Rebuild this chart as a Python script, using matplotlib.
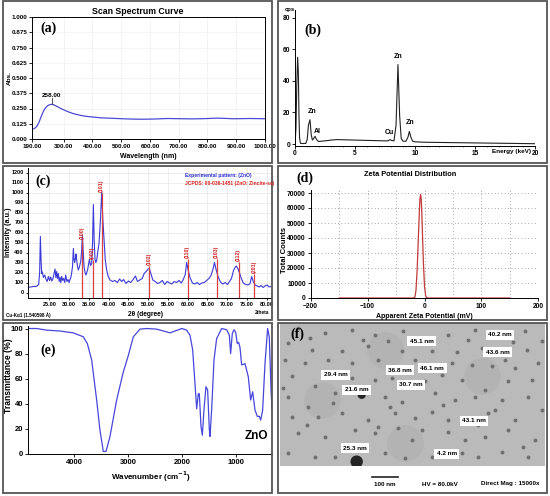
import numpy as np
import matplotlib
matplotlib.use("Agg")
import matplotlib.pyplot as plt
from matplotlib.patches import Rectangle

W, H = 550, 496

# (a) UV-Vis scan spectrum
uv_wl = [190, 196, 202, 208, 214, 220, 226, 232, 238, 244, 250, 256, 262, 268, 276,
         288, 300, 318, 335, 360, 381, 405, 427, 455, 485, 515, 543, 572, 601, 630,
         659, 688, 716, 745, 774, 803, 832, 861, 890, 920, 948, 975, 1000]
uv_abs = [0.082, 0.084, 0.092, 0.108, 0.135, 0.172, 0.208, 0.238, 0.258, 0.272, 0.280, 0.284,
          0.283, 0.278, 0.268, 0.253, 0.239, 0.221, 0.207, 0.193, 0.185, 0.179, 0.174, 0.171,
          0.168, 0.165, 0.163, 0.162, 0.163, 0.165, 0.168, 0.167, 0.166, 0.165, 0.166, 0.168,
          0.171, 0.169, 0.166, 0.167, 0.168, 0.167, 0.166]
uv_peak = 258.0

# (b) EDS spectrum
eds_e = [0, 0.08, 0.15, 0.22, 0.28, 0.33, 0.38, 0.45, 0.6, 0.9, 1.02, 1.12, 1.25, 1.35, 1.45,
         1.55, 1.67, 1.78, 1.95, 2.2, 2.6, 3.0, 3.5, 4.0, 4.5, 5.0, 5.5, 6.0, 6.5, 7.0, 7.5,
         7.75, 7.9, 8.05, 8.25, 8.42, 8.58, 8.72, 8.85, 9.0, 9.25, 9.42, 9.53, 9.65, 9.8,
         10.0, 10.5, 11, 12, 13, 14, 15, 16, 17, 18, 19, 20]
eds_cps = [0, 10, 38, 55, 45, 18, 4, 0.5, 0.3, 0.4, 3, 12, 15.4, 6, 2.5,
           3.5, 4.9, 3.0, 1.6, 1.8, 2.1, 2.5, 2.8, 2.7, 2.6, 2.5, 2.4, 2.3, 2.2, 2.1, 2.0,
           2.0, 2.8, 2.3, 2.0, 12, 50.4, 18, 3.5, 1.8, 1.8, 4.5, 8.0, 4.5, 1.8,
           1.4, 1.2, 1.1, 1.0, 0.9, 0.8, 0.7, 0.6, 0.5, 0.4, 0.3, 0.2]
eds_labels = ["Zn", "Al", "Cu", "Zn", "Zn"]
eds_label_e = [1.39, 1.86, 7.86, 8.56, 9.58]
eds_label_c = [18.6, 6.0, 5.3, 53.5, 11.2]

# (c) XRD pattern
xrd_2t = [19.5, 20.3, 21.0, 21.8, 22.3, 22.55, 22.73, 22.9, 23.07, 23.24, 23.49, 23.83, 24.17,
          24.45, 24.75, 25.05, 25.35, 25.6, 25.85, 26.15, 26.44, 26.65, 26.86, 27.05, 27.28,
          27.5, 27.71, 27.9, 28.13, 28.4, 28.64, 28.9, 29.14, 29.45, 29.73, 30.0, 30.24, 30.45,
          30.66, 30.87, 31.08, 31.25, 31.42, 31.6, 31.75, 32.05, 32.34, 32.64, 32.94, 33.15,
          33.36, 33.57, 33.78, 34.03, 34.28, 34.7, 35.13, 35.45, 35.72, 35.95, 36.14, 36.35,
          36.56, 36.77, 36.98, 37.3, 37.57, 37.9, 38.25, 38.55, 38.84, 39.15, 39.51, 39.9,
          40.36, 41.0, 41.6, 42.2, 42.8, 43.3, 43.8, 44.4, 45.0, 45.6, 46.2, 46.8, 47.3, 47.9,
          48.5, 49.0, 49.5, 50.0, 50.3, 50.7, 51.2, 51.8, 52.4, 53.0, 53.6, 54.2, 54.8, 55.4,
          56.0, 56.6, 57.2, 57.8, 58.4, 58.9, 59.4, 59.75, 60.1, 60.6, 61.2, 61.8, 62.4, 63.0,
          63.6, 64.2, 64.8, 65.4, 65.9, 66.4, 66.8, 67.2, 67.7, 68.3, 68.9, 69.5, 70.1, 70.6,
          71.1, 71.6, 72.0, 72.3, 72.7, 73.1, 73.6, 74.1, 74.7, 75.3, 75.8, 76.2, 76.6, 77.1,
          77.6, 78.1, 78.6, 79.1, 79.6, 80.1, 80.6, 81.1]
xrd_int = [50, 55, 60, 62, 80, 200, 560, 330, 190, 205, 150, 175, 130,
           110, 160, 120, 155, 115, 130, 180, 235, 150, 210, 140, 190,
           110, 150, 100, 160, 120, 140, 100, 175, 110, 130, 100, 130, 150,
           200, 260, 440, 330, 300, 340, 385, 280, 225, 260, 310, 400,
           570, 420, 260, 200, 175, 230, 330, 270, 290, 520, 880, 520,
           330, 300, 320, 420, 490, 700, 1000, 720, 525, 330, 225, 160,
           125, 110, 120, 100, 135, 110, 130, 90, 115, 100, 130, 165, 110, 125,
           140, 190, 210, 235, 240, 190, 125, 110, 90, 100, 120, 80, 110, 95,
           85, 110, 100, 120, 95, 130, 180, 300, 230, 150, 95, 85, 100, 80,
           95, 100, 120, 140, 170, 230, 300, 230, 160, 105, 85, 100, 80, 110,
           140, 220, 250, 265, 240, 200, 140, 95, 80, 75, 90, 160, 110, 75,
           65, 55, 70, 50, 65, 75, 55, 60]
jc_2t = [33.36, 35.97, 38.25, 50.31, 60.0, 67.34, 72.9, 76.78]
jc_top = [530, 325, 1000, 265, 340, 340, 310, 190]
jc_hkl = ["(100)", "(002)", "(101)", "(102)", "(110)", "(103)", "(112)", "(201)"]

# (d) Zeta potential distribution
zeta_mv = [-150, -40, -20, -17, -15, -13, -11, -9, -8, -7, -6, -5, -4, -2, 0, 2, 4, 8, 40, 150]
zeta_counts = [0, 0, 0, 500, 5000, 18000, 38000, 58000, 66000, 69000, 67000, 60000, 48000,
               24000, 8000, 1500, 200, 0, 0, 0]

# (e) FTIR spectrum
ir_wn = [4846, 4691, 4506, 4259, 4012, 3827, 3753, 3673, 3580, 3519, 3457, 3407, 3333,
         3210, 3086, 3000, 2901, 2778, 2654, 2469, 2284, 2222, 2130, 2000, 1914, 1852,
         1802, 1759, 1728, 1698, 1679, 1648, 1623, 1593, 1556, 1525, 1494, 1481, 1451,
         1407, 1358, 1265, 1173, 1123, 1099, 1068, 1037, 1006, 975, 951, 926, 895, 833,
         772, 728, 691, 648, 605, 568, 543, 506, 463, 414, 383, 350, 333]
ir_t = [100, 100, 98.7, 98, 96.5, 93.4, 88, 75, 43, 19, 2, 2, 14,
        43, 65.5, 77.5, 93.4, 99.5, 100, 99.5, 97.3, 96.5, 98, 100, 98.7, 94.7,
        83, 56, 36, 48, 48, 22, 15, 35, 53.6, 51, 20, 14, 35,
        75, 92, 100, 99, 94.7, 80, 96, 99, 97, 88, 89, 85, 71, 72,
        61.5, 43, 49.6, 35, 30, 30, 27, 35, 72, 100, 93, 50, 36]

# (f) TEM particles (micrograph pixel positions)
tem_x = [70, 150, 230, 300, 385, 520, 600, 750, 40, 110, 200, 280, 340, 380, 470, 545, 620,
         690, 755, 800, 30, 90, 160, 230, 310, 420, 530, 590, 650, 720, 790, 50, 120, 230,
         300, 350, 450, 500, 560, 630, 700, 770, 40, 100, 180, 330, 380, 480, 540, 600, 680,
         760, 50, 130, 200, 280, 360, 420, 470, 520, 640, 720, 800, 70, 150, 240, 300, 370,
         410, 520, 570, 630, 700, 780, 40, 120, 180, 330, 390, 470, 560, 610, 680, 760,
         105, 265, 455, 580, 715, 25, 175, 345, 505, 660, 95, 310, 440, 610, 745]
tem_y = [55, 70, 60, 75, 65, 75, 60, 65, 100, 120, 125, 110, 95, 125, 125, 128, 115,
         150, 120, 95, 150, 160, 150, 160, 150, 150, 160, 165, 170, 175, 160, 200, 230, 205,
         210, 205, 215, 195, 210, 240, 215, 210, 260, 290, 250, 260, 275, 250, 270, 260, 270,
         260, 320, 320, 310, 330, 310, 325, 305, 330, 310, 330, 300, 370, 380, 360, 370, 355,
         390, 365, 390, 380, 360, 390, 430, 440, 440, 430, 445, 440, 430, 440, 425, 440,
         85, 90, 100, 92, 98, 235, 280, 290, 285, 300, 345, 350, 360, 345, 410]
tem_dark_x = [260, 245]
tem_dark_y = [255, 455]
tem_tags = ["45.1 nm", "40.2 nm", "43.6 nm", "36.8 nm", "46.1 nm", "29.4 nm", "30.7 nm",
            "21.6 nm", "43.1 nm", "25.3 nm", "4.2 nm"]
tem_tag_x = [440, 675, 668, 375, 472, 182, 408, 245, 597, 240, 515]
tem_tag_y = [95, 75, 128, 182, 175, 195, 225, 240, 333, 415, 432]

plt.rcParams['font.family'] = ['Liberation Sans', 'DejaVu Sans']
plt.rcParams['font.weight'] = 'bold'
plt.rcParams['axes.labelweight'] = 'bold'
plt.rcParams['axes.linewidth'] = 0.7
plt.rcParams['xtick.major.width'] = 0.6
plt.rcParams['ytick.major.width'] = 0.6
plt.rcParams['xtick.major.size'] = 2
plt.rcParams['ytick.major.size'] = 2
plt.rcParams['xtick.major.pad'] = 1.5
plt.rcParams['ytick.major.pad'] = 1.5

fig = plt.figure(figsize=(W / 100, H / 100), dpi=100)


def px_axes(l, t, r, b):
    return fig.add_axes([l / W, 1 - b / H, (r - l) / W, (b - t) / H])


def px_text(x, y, s, **kw):
    return fig.text(x / W, 1 - y / H, s, **kw)


def frame(l, t, r, b):
    fig.add_artist(Rectangle((l / W, 1 - b / H), (r - l) / W, (b - t) / H,
                             transform=fig.transFigure, fill=False, ec='#555555', lw=1.3))


letter = dict(family='Liberation Serif', weight='bold', fontsize=10)

# ---------- (a)
frame(3, 1, 272, 163)
ax = px_axes(32, 17, 265, 139)
ax.plot(uv_wl, uv_abs, color='#4b4bd6', lw=0.9)
ax.set_xlim(190, 1000)
ax.set_ylim(0, 1)
ax.set_xticks([190, 300, 400, 500, 600, 700, 800, 900, 1000])
ax.set_xticklabels([f"{v:.2f}" for v in [190, 300, 400, 500, 600, 700, 800, 900, 1000]])
ax.set_yticks(np.arange(0, 1.001, 0.125))
ax.set_yticklabels([f"{v:.3f}" for v in np.arange(0, 1.001, 0.125)])
ax.tick_params(labelsize=4.5)
ax.grid(color='#f0f0f0', lw=0.5)
ax.plot([uv_peak, uv_peak], [0.29, 0.335], color='#333333', lw=0.6)
ax.text(uv_peak, 0.34, "258.00", ha='center', va='bottom', fontsize=4.5)
ax.text(0.035, 0.96, "(a)", transform=ax.transAxes, ha='left', va='top', **letter)
px_text(138, 11, "Scan Spectrum Curve", ha='center', va='center', fontsize=6.3)
px_text(9, 78, "Abs.", rotation=90, ha='center', va='center', fontsize=4.6)
px_text(148, 156, "Wavelength (nm)", ha='center', va='center', fontsize=5)

# ---------- (b)
frame(278, 1, 547, 163)
ax = px_axes(295, 10, 535, 145.6)
ax.plot(eds_e, eds_cps, color='#222222', lw=0.8)
for s, e, c in zip(eds_labels, eds_label_e, eds_label_c):
    ax.text(e, c, s, ha='center', va='bottom', fontsize=5)
ax.set_xlim(0, 20)
ax.set_ylim(-1, 85)
ax.set_xticks([0, 5, 10, 15, 20])
ax.set_xticks(np.arange(0, 21, 1), minor=True)
ax.set_yticks([0, 20, 40, 60, 80])
ax.tick_params(labelsize=4.8)
ax.tick_params(which='minor', length=1, width=0.4)
ax.spines[['top', 'right']].set_visible(False)
ax.text(0.04, 0.9, "(b)", transform=ax.transAxes, ha='left', va='top', **letter)
px_text(290, 9, "cps", ha='center', va='center', fontsize=4.2)
px_text(512, 152, "Energy (keV)", ha='center', va='center', fontsize=4.6)

# ---------- (c)
frame(3, 166, 272, 320)
ax = px_axes(28, 168, 271, 298)
ax.plot(xrd_2t, xrd_int, color='#3a3ad8', lw=0.8)
ax.vlines(jc_2t, -55, jc_top, color='#d84040', lw=0.9)
for p, t, s in zip(jc_2t, jc_top, jc_hkl):
    ax.text(p, t + 8, s, rotation=90, ha='center', va='bottom', color='#d02020', fontsize=3.8)
ax.set_xlim(19.6, 81.1)
ax.set_ylim(-55, 1245)
ax.set_xticks(np.arange(25, 81, 5))
ax.set_xticklabels([f"{v:.2f}" for v in np.arange(25, 81, 5)])
ax.set_yticks(np.arange(0, 1201, 100))
ax.tick_params(labelsize=4, length=1.5)
ax.grid(color='#e6e6e6', lw=0.5)
ax.spines[['top', 'right']].set_visible(False)
ax.text(0.03, 0.95, "(c)", transform=ax.transAxes, ha='left', va='top', **letter)
px_text(185, 175, "Experimental pattern: (ZnO)", color='#2a2ad0', fontsize=3.6, va='center')
px_text(185, 183, "JCPDS: 00-036-1451 (ZnO: Zincite-ss)", color='#d82020', fontsize=3.6, va='center')
px_text(9, 232, "Intensity (a.u.)", rotation=90, ha='center', va='center', fontsize=5.2)
px_text(146, 314, "2θ (degree)", ha='center', va='center', fontsize=4.8)
px_text(6, 315, "Cu-Kα1 (1.540598 Å)", ha='left', va='center', fontsize=3.3)
px_text(262, 313, "2theta", ha='center', va='center', fontsize=3.5)

# ---------- (d)
frame(278, 166, 547, 320)
ax = px_axes(310.7, 190, 538.3, 298)
ax.plot(zeta_mv, zeta_counts, color='#c23a3a', lw=0.9)
ax.set_xlim(-200, 200)
ax.set_ylim(0, 72000)
ax.set_xticks([-200, -100, 0, 100, 200])
ax.set_xticks(np.arange(-200, 201, 50), minor=True)
ax.set_yticks(np.arange(0, 70001, 10000))
ax.tick_params(labelsize=4.8)
ax.tick_params(which='minor', length=0)
ax.grid(which='both', color='#888888', lw=0.6, ls=(0, (1, 3)))
ax.spines[['top', 'right']].set_visible(False)
px_text(305, 178, "(d)", ha='center', va='center', **letter)
px_text(410, 175, "Zeta Potential Distribution", ha='center', va='center', fontsize=5.3)
px_text(284, 250, "Total Counts", rotation=90, ha='center', va='center', fontsize=5.5)
px_text(424, 316, "Apparent Zeta Potential (mV)", ha='center', va='center', fontsize=5)

# ---------- (e)
frame(3, 323, 272, 493)
ax = px_axes(28.3, 326, 272, 454)
ax.plot(ir_wn, ir_t, color='#4646dc', lw=0.9)
ax.set_xlim(4846, 333)
ax.set_ylim(0, 102)
ax.set_xticks([4000, 3000, 2000, 1000])
ax.set_yticks([0, 20, 40, 60, 80, 100])
ax.tick_params(labelsize=5.5)
ax.spines[['top', 'right']].set_visible(False)
ax.text(0.05, 0.86, "(e)", transform=ax.transAxes, ha='left', va='top', **letter)
ax.text(615, 14, "ZnO", ha='center', va='center', fontsize=8.5)
px_text(9, 376, "Transmittance (%)", rotation=90, ha='center', va='center', fontsize=6.2)
px_text(151, 477, "Wavenumber (cm$^{-1}$)", ha='center', va='center', fontsize=5.8)

# ---------- (f)
frame(278, 323, 547, 493)
ax = px_axes(280, 323, 545, 466)
ax.set_facecolor('#bababa')
ax.set_xlim(15, 810)
ax.set_ylim(468, 40)
ax.scatter([140, 390, 620, 330], [270, 400, 200, 120], s=700, color='#ababab', alpha=0.45, lw=0)
ax.scatter(tem_x, tem_y, s=8, color='#707070', lw=0)
ax.scatter(tem_dark_x, tem_dark_y, s=[35, 80], color='#252525', lw=0)
for s, x, y in zip(tem_tags, tem_tag_x, tem_tag_y):
    ax.text(x, y, s, ha='center', va='center', fontsize=4.6,
            bbox=dict(boxstyle='square,pad=0.4', fc='white', ec='none'))
ax.text(45, 75, "(f)", ha='left', va='center', **letter)
ax.set_xticks([])
ax.set_yticks([])
for sp in ax.spines.values():
    sp.set_visible(False)
fig.add_artist(plt.Line2D([371.7 / W, 398.3 / W], [1 - 476.7 / H, 1 - 476.7 / H],
                          transform=fig.transFigure, color='#222222', lw=1.2))
px_text(385, 484, "100 nm", ha='center', va='center', fontsize=4.5)
px_text(440, 484, "HV = 80.0kV", ha='center', va='center', fontsize=4.5)
px_text(510, 484, "Direct Mag : 15000x", ha='center', va='center', fontsize=4.5)

fig.savefig("out.png", dpi=100)
